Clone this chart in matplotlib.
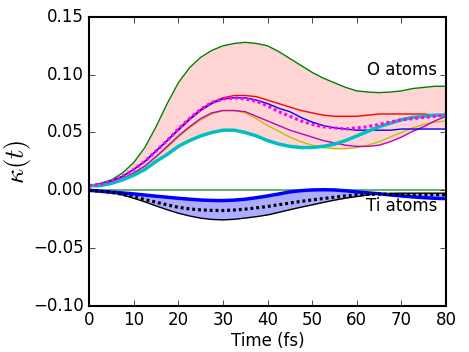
import numpy as np
import matplotlib
matplotlib.use("Agg")
import matplotlib.pyplot as plt

plt.style.use("classic")

# time axis (fs)
t = np.arange(0, 80.1, 2.5)

# O atoms
o_green = [0.004, 0.006, 0.009, 0.015, 0.024, 0.037, 0.055, 0.075, 0.093, 0.106, 0.115, 0.121,
           0.125, 0.127, 0.128, 0.127, 0.125, 0.120, 0.114, 0.108, 0.102, 0.097, 0.093, 0.089,
           0.086, 0.085, 0.0845, 0.085, 0.086, 0.088, 0.089, 0.090, 0.090]
o_red = [0.004, 0.005, 0.008, 0.012, 0.018, 0.025, 0.034, 0.043, 0.053, 0.062, 0.070, 0.076,
         0.080, 0.082, 0.082, 0.081, 0.078, 0.075, 0.072, 0.069, 0.067, 0.065, 0.064, 0.064,
         0.064, 0.065, 0.066, 0.066, 0.066, 0.066, 0.066, 0.065, 0.064]
o_blue = [0.004, 0.005, 0.008, 0.012, 0.018, 0.025, 0.034, 0.043, 0.052, 0.061, 0.069, 0.075,
          0.079, 0.080, 0.080, 0.078, 0.075, 0.071, 0.068, 0.063, 0.059, 0.056, 0.054, 0.053,
          0.052, 0.052, 0.052, 0.052, 0.053, 0.053, 0.053, 0.053, 0.053]
o_magenta_dot = [0.004, 0.005, 0.008, 0.012, 0.018, 0.025, 0.034, 0.043, 0.053, 0.062, 0.070, 0.076,
                 0.079, 0.080, 0.079, 0.077, 0.073, 0.068, 0.064, 0.060, 0.057, 0.055, 0.054, 0.053,
                 0.054, 0.055, 0.057, 0.059, 0.061, 0.062, 0.063, 0.064, 0.065]
o_yellow = [0.004, 0.005, 0.007, 0.010, 0.015, 0.021, 0.029, 0.037, 0.046, 0.054, 0.061, 0.066,
            0.069, 0.069, 0.067, 0.062, 0.056, 0.051, 0.046, 0.042, 0.039, 0.037, 0.036, 0.036,
            0.037, 0.039, 0.042, 0.046, 0.050, 0.054, 0.057, 0.059, 0.060]
o_magenta = [0.004, 0.005, 0.007, 0.010, 0.015, 0.021, 0.029, 0.038, 0.047, 0.055, 0.062, 0.067,
             0.069, 0.069, 0.068, 0.064, 0.060, 0.056, 0.052, 0.049, 0.046, 0.043, 0.041, 0.039,
             0.038, 0.038, 0.039, 0.042, 0.046, 0.051, 0.055, 0.060, 0.064]
o_cyan = [0.004, 0.004, 0.006, 0.009, 0.013, 0.018, 0.025, 0.031, 0.038, 0.043, 0.047, 0.050,
          0.052, 0.052, 0.050, 0.047, 0.043, 0.040, 0.038, 0.037, 0.037, 0.038, 0.040, 0.043,
          0.047, 0.051, 0.055, 0.058, 0.061, 0.063, 0.064, 0.065, 0.065]

# Ti atoms
ti_green = [0.0] * 33
ti_blue = [0.0, -0.0008, -0.0016, -0.0023, -0.0031, -0.0041, -0.0051, -0.0060, -0.0069, -0.0077,
           -0.0084, -0.0088, -0.0089, -0.0085, -0.0077, -0.0064, -0.0049, -0.0032, -0.0014, -0.0003,
           0.0003, 0.0005, 0.0003, -0.0004, -0.0014, -0.0022, -0.0030, -0.0040, -0.0049, -0.0057,
           -0.0064, -0.0069, -0.0072]
ti_black = [0.0, -0.0008, -0.0020, -0.0040, -0.0069, -0.0100, -0.0135, -0.0168, -0.0198, -0.0222,
            -0.0241, -0.0252, -0.0256, -0.0251, -0.0240, -0.0228, -0.0213, -0.0191, -0.0168, -0.0146,
            -0.0126, -0.0105, -0.0085, -0.0068, -0.0054, -0.0040, -0.0030, -0.0027, -0.0025, -0.0025,
            -0.0025, -0.0025, -0.0025]
ti_dot = [0.0, -0.0008, -0.0018, -0.0035, -0.0058, -0.0080, -0.0103, -0.0126, -0.0147, -0.0161,
          -0.0170, -0.0174, -0.0175, -0.0171, -0.0163, -0.0152, -0.0140, -0.0125, -0.0110, -0.0096,
          -0.0083, -0.0071, -0.0060, -0.0049, -0.0040, -0.0035, -0.0033, -0.0035, -0.0037, -0.0037,
          -0.0037, -0.0037, -0.0037]

fig = plt.figure(figsize=(4.69, 3.52), dpi=100, facecolor="white")
ax = fig.add_axes([0.19, 0.131, 0.761, 0.821])
ax.set_facecolor("white")

o_all = np.array([o_green, o_red, o_blue, o_magenta_dot, o_yellow, o_magenta, o_cyan])
ax.fill_between(t, o_all.min(axis=0), o_all.max(axis=0), color="red", alpha=0.17, lw=0)
ax.fill_between(t, ti_blue, ti_black, color="blue", alpha=0.32, lw=0)

ax.plot(t, o_green, color="g", lw=1)
ax.plot(t, o_red, color="r", lw=1)
ax.plot(t, o_yellow, color="y", lw=1)
ax.plot(t, o_magenta, color="m", lw=1)
ax.plot(t, o_blue, color="b", lw=1)
ax.plot(t, o_cyan, color="c", lw=2.5)
ax.plot(t, o_magenta_dot, color="magenta", lw=2.3, dashes=(2.1, 2.1))

ax.plot(t, ti_green, color="g", lw=1.2, alpha=0.7)
ax.plot(t, ti_black, color="k", lw=1)
ax.plot(t, ti_blue, color="b", lw=2.5)
ax.plot(t, ti_dot, color="k", lw=2.3, dashes=(2.1, 2.1))

ax.text(78, 0.1, "O atoms", ha="right", va="baseline", fontsize=12)
ax.text(78, -0.0175, "Ti atoms", ha="right", va="baseline", fontsize=12)

ax.set_xlim(0, 80)
ax.set_ylim(-0.10, 0.15)
ax.set_xticks(np.arange(0, 81, 10))
ax.set_yticks(np.arange(-0.10, 0.151, 0.05))
ax.set_xlabel("Time (fs)", fontsize=12, labelpad=2)
ax.set_ylabel(r"$\kappa(t)$", fontsize=19, labelpad=0)
for s in ax.spines.values():
    s.set_linewidth(1.5)

fig.savefig("out.png", dpi=100, facecolor="white")
